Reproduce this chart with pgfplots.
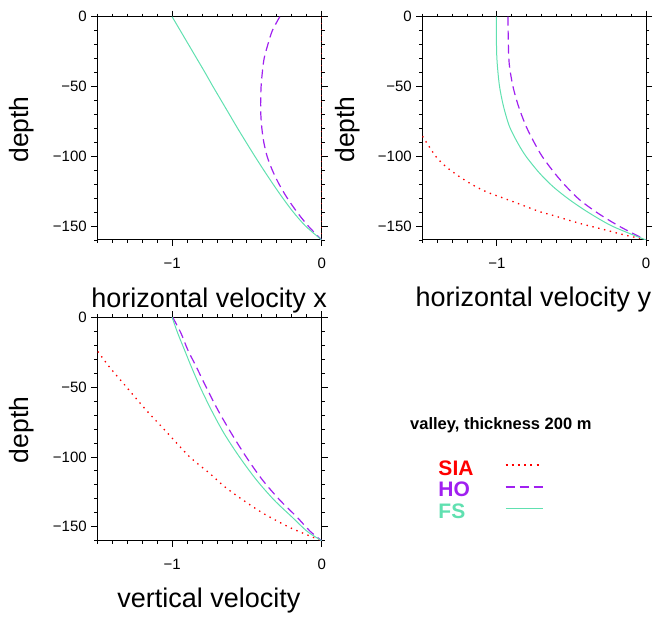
\documentclass[border=0pt]{standalone}
\usepackage{fontspec}
\setmainfont{Liberation Sans}
\usepackage{pgfplots}
\pgfplotsset{compat=1.18}
\definecolor{hoc}{RGB}{160,32,240}
\definecolor{fsc}{RGB}{96,224,176}
\pgfplotsset{
  myax/.style={scale only axis, width=224.4pt, height=223.3pt,
    xmin=-1.5, xmax=0, ymin=-160, ymax=0,
    axis line style={line width=1pt},
    tick align=outside, major tick length=6pt, minor tick length=3pt,
    every tick/.style={black, line width=0.8pt},
    xtick={-1,0}, xticklabels={−1,0},
    ytick={-150,-100,-50,0}, yticklabels={−150,−100,−50,0},
    minor xtick={-1.5,-1.4,-1.3,-1.2,-1.1,-0.9,-0.8,-0.7,-0.6,-0.5,-0.4,-0.3,-0.2,-0.1},
    minor ytick={-160,-140,-130,-120,-110,-90,-80,-70,-60,-40,-30,-20,-10},
    tick label style={font=\fontsize{15}{18}\selectfont},
    xticklabel style={yshift=-9pt},
    yticklabel style={xshift=-1pt},
  },
}
\tikzset{
  sia/.style={draw=red, line width=1.3pt, dash pattern=on 1.4pt off 4.6pt},
  ho/.style={draw=hoc, line width=1.2pt, dash pattern=on 9pt off 5pt},
  fs/.style={draw=fsc, line width=1pt},
}
\begin{document}
\begin{tikzpicture}
\useasboundingbox (0,0) rectangle (654pt,617pt);
% top left
\begin{axis}[myax, at={(97.3pt,377pt)}, anchor=south west]
\addplot[sia] coordinates {(0,0) (0,-160)};
\addplot[ho, smooth] coordinates {(-0.28,0) (-0.33,-10) (-0.36,-20) (-0.385,-30) (-0.397,-40) (-0.405,-50) (-0.408,-60) (-0.407,-70) (-0.40,-80) (-0.387,-90) (-0.365,-100) (-0.33,-110) (-0.285,-120) (-0.23,-130) (-0.165,-140) (-0.09,-150) (0,-160)};
\addplot[fs, smooth] coordinates {(-1,0) (-0.945,-10) (-0.89,-20) (-0.835,-30) (-0.78,-40) (-0.727,-50) (-0.672,-60) (-0.617,-70) (-0.562,-80) (-0.505,-90) (-0.447,-100) (-0.387,-110) (-0.325,-120) (-0.26,-130) (-0.19,-140) (-0.108,-150) (0,-160)};
\end{axis}
% top right
\begin{axis}[myax, width=223.7pt, at={(422.3pt,377pt)}, anchor=south west]
\addplot[sia, smooth] coordinates {(-1.52,-82) (-1.475,-89.6) (-1.408,-100.3) (-1.341,-107.5) (-1.251,-114.6) (-1.161,-120.6) (-1.072,-125.4) (-0.982,-129.0) (-0.892,-132.5) (-0.803,-136.1) (-0.713,-139.7) (-0.623,-142.4) (-0.534,-145.3) (-0.444,-148.1) (-0.354,-150.6) (-0.265,-153.0) (-0.152,-156.2) (-0.04,-158.9) (0,-160)};
\addplot[ho, smooth] coordinates {(-0.926,0) (-0.922,-23.9) (-0.915,-35.8) (-0.892,-50.1) (-0.854,-64.5) (-0.803,-78.8) (-0.747,-90.7) (-0.695,-100.3) (-0.612,-112.2) (-0.534,-121.8) (-0.444,-131.3) (-0.321,-140.9) (-0.175,-150.4) (0,-160)};
\addplot[fs, smooth] coordinates {(-1.004,0) (-1.002,-23.9) (-0.996,-35.8) (-0.982,-50.1) (-0.955,-64.5) (-0.915,-78.8) (-0.859,-90.7) (-0.803,-100.3) (-0.713,-112.2) (-0.623,-121.8) (-0.511,-131.3) (-0.377,-140.9) (-0.22,-150.4) (0,-160)};
\end{axis}
% bottom left
\begin{axis}[myax, height=223.4pt, at={(97.3pt,76.3pt)}, anchor=south west,
  legend plot pos=right,
  legend style={at={(1.5196,0.3612)}, anchor=north west, draw=none, fill=none,
    inner sep=0pt, column sep=31pt, row sep=6.7pt,
    font=\bfseries\fontsize{21}{22}\selectfont,
    nodes={inner sep=0pt, text height=15pt, text depth=0pt}},
  legend cell align=left]
\addlegendimage{legend image code/.code={\draw[draw=red, line width=2pt, dash pattern=on 2pt off 4.2pt] (0pt,2.5pt) -- (37pt,2.5pt);}}
\addlegendentry{\textcolor{red}{SIA}}
\addlegendimage{legend image code/.code={\draw[draw=hoc, line width=1.8pt, dash pattern=on 9pt off 5pt] (0pt,2.5pt) -- (38pt,2.5pt);}}
\addlegendentry{\textcolor{hoc}{HO}}
\addlegendimage{legend image code/.code={\draw[draw=fsc, line width=1.4pt] (0pt,2.5pt) -- (37pt,2.5pt);}}
\addlegendentry{\textcolor{fsc}{FS}}
\addplot[sia, smooth, forget plot] coordinates {(-1.52,-21) (-1.421,-35.3) (-1.304,-50.1) (-1.174,-66.4) (-1.029,-83.1) (-0.884,-99.8) (-0.749,-111.8) (-0.649,-121.3) (-0.526,-130.9) (-0.391,-140.4) (-0.224,-150.0) (-0.123,-154.7) (0,-160)};
\addplot[ho, smooth, forget plot] coordinates {(-0.996,0) (-0.94,-11.5) (-0.895,-23.4) (-0.839,-35.3) (-0.772,-50.1) (-0.694,-66.4) (-0.604,-83.1) (-0.503,-100.3) (-0.396,-116.5) (-0.28,-130.9) (-0.168,-142.8) (-0.075,-153.5) (0,-160)};
\addplot[fs, smooth, forget plot] coordinates {(-1.0,0) (-0.962,-11.5) (-0.917,-23.4) (-0.872,-35.3) (-0.812,-50.1) (-0.738,-66.4) (-0.653,-83.1) (-0.548,-100.3) (-0.436,-116.5) (-0.318,-130.9) (-0.201,-142.8) (-0.095,-153.5) (0,-160)};
\end{axis}
\node[rotate=90, anchor=base, font=\fontsize{26.5}{30}\selectfont] at (28pt,487.5pt) {depth};
\node[rotate=90, anchor=base, font=\fontsize{26.5}{30}\selectfont] at (354pt,487.5pt) {depth};
\node[rotate=90, anchor=base, font=\fontsize{26.5}{30}\selectfont] at (28pt,187pt) {depth};
\node[anchor=base, font=\fontsize{27}{32}\selectfont] at (209.2pt,309pt) {horizontal velocity x};
\node[anchor=base, font=\fontsize{27}{32}\selectfont] at (533.5pt,310pt) {horizontal velocity y};
\node[anchor=base, font=\fontsize{27}{32}\selectfont] at (209pt,9pt) {vertical velocity};
\node[anchor=base west, inner sep=0pt, font=\bfseries\fontsize{16.5}{19}\selectfont] at (410pt,187.7pt) {valley, thickness 200 m};
\end{tikzpicture}
\end{document}
